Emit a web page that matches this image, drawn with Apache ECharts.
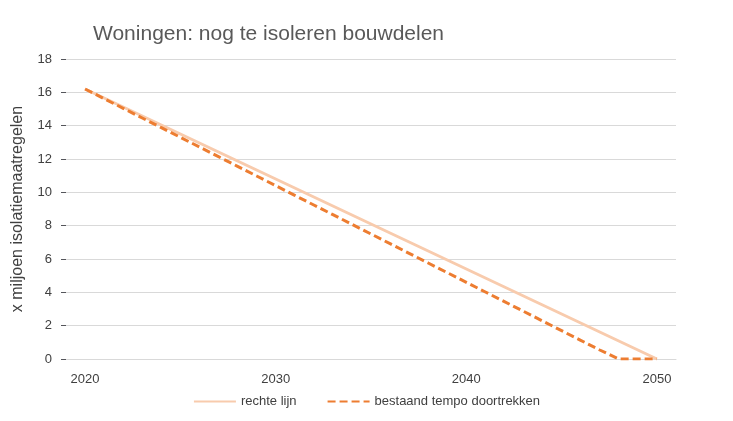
<!DOCTYPE html>
<html><head><meta charset="utf-8">
<script src="https://cdn.jsdelivr.net/npm/echarts@6/dist/echarts.min.js"></script>
<style>html,body{margin:0;padding:0;background:#fff}#c{width:733px;height:421px}</style>
</head><body><div id="c"></div>
<script>
const years = [2020,2021,2022,2023,2024,2025,2026,2027,2028,2029,2030,2031,2032,2033,2034,2035,2036,2037,2038,2039,2040,2041,2042,2043,2044,2045,2046,2047,2048,2049,2050];
const rechteLijn = [16.2,15.66,15.12,14.58,14.04,13.5,12.96,12.42,11.88,11.34,10.8,10.26,9.72,9.18,8.64,8.1,7.56,7.02,6.48,5.94,5.4,4.86,4.32,3.78,3.24,2.7,2.16,1.62,1.08,0.54,0];
const bestaandTempo = [16.2,15.62,15.04,14.46,13.88,13.3,12.72,12.14,11.56,10.98,10.4,9.82,9.24,8.66,8.08,7.5,6.92,6.34,5.76,5.18,4.6,4.02,3.44,2.86,2.28,1.7,1.12,0.54,0,0,0];
const chart = echarts.init(document.getElementById('c'));
const font = 'Liberation Sans, Arial, sans-serif';
chart.setOption({
  animation:false,
  textStyle:{fontFamily:font},
  title:{text:'Woningen: nog te isoleren bouwdelen',left:88,top:19,textStyle:{fontSize:21,fontWeight:'normal',color:'#595959',fontFamily:font}},
  grid:{left:66,right:57,top:59,bottom:62},
  legend:{bottom:8,left:'center',itemWidth:42,itemGap:30,itemStyle:{opacity:0},textStyle:{fontSize:13,color:'#404040'},
    data:['rechte lijn','bestaand tempo doortrekken']},
  xAxis:{type:'value',min:2019,max:2051,interval:1,splitLine:{show:false},
    axisLine:{show:true,lineStyle:{color:'#d9d9d9'}},axisTick:{show:false},
    axisLabel:{formatter:(v)=>(v%10===0?String(v):''),color:'#404040',fontSize:13,margin:14,showMinLabel:true,showMaxLabel:true}},
  yAxis:{type:'value',min:0,max:18,interval:2,name:'x miljoen isolatiemaatregelen',nameLocation:'middle',nameGap:40,
    nameTextStyle:{fontSize:16,color:'#404040'},
    axisLabel:{color:'#404040',fontSize:13,margin:14},
    splitLine:{lineStyle:{color:'#d9d9d9'}},axisLine:{show:false}},
  series:[
    {name:'rechte lijn',type:'line',data:years.map((y,i)=>[y,rechteLijn[i]]),showSymbol:false,symbol:'none',lineStyle:{color:'#F8CBAD',width:3},itemStyle:{color:'#F8CBAD'}},
    {name:'bestaand tempo doortrekken',type:'line',data:years.map((y,i)=>[y,bestaandTempo[i]]),showSymbol:false,symbol:'none',lineStyle:{color:'#ED7D31',width:3,type:[8,4]},itemStyle:{color:'#ED7D31'}}
  ]
});
</script></body></html>
